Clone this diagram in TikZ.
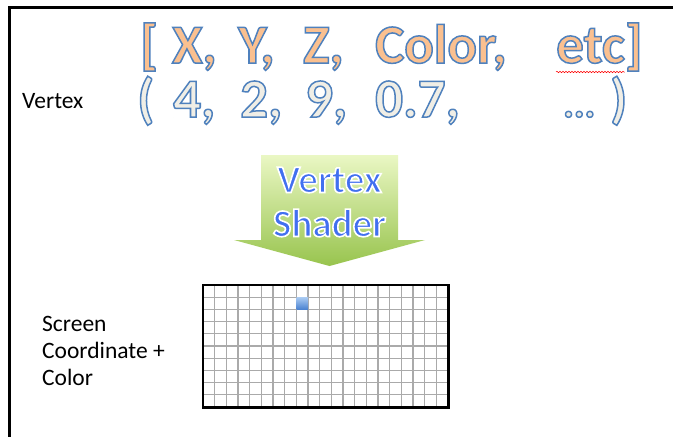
\documentclass[tikz,border=0pt]{standalone}
\usepackage{fontspec}
\setmainfont{Carlito}
\usepackage{xcolor}
\usetikzlibrary{decorations.pathmorphing}
\definecolor{outlineblue}{RGB}{79,129,189}
\definecolor{peach}{RGB}{250,192,144}
\definecolor{paper}{RGB}{240,238,230}
\definecolor{shaderblue}{RGB}{66,112,240}
\definecolor{arrowtop}{RGB}{234,247,196}
\definecolor{arrowbottom}{RGB}{152,196,78}
\definecolor{gridgray}{RGB}{170,170,170}
\definecolor{pixeltop}{RGB}{168,202,242}
\definecolor{pixelbottom}{RGB}{72,128,208}
% outlined text: fill colour #1, blue outline drawn with pdf text render mode
\newcommand{\outlined}[2]{\textcolor{#1}{\special{pdf:code 0.31 0.506 0.741 RG 1.5 w 2 Tr}#2\special{pdf:code 0 Tr}}}
\newcommand{\fieldword}[1]{\outlined{peach}{#1}}
\newcommand{\valueword}[1]{\outlined{paper}{#1}}
% blue text with a thin white rim
\newcommand{\glowword}[1]{\textcolor{shaderblue}{\special{pdf:code 1 1 1 RG 1.6 w 2 Tr}#1\special{pdf:code 0 Tr}}}
\tikzset{
    framestroke/.style={
        draw=black,
        line width=2.2pt
    },
    fieldtext/.style={
        anchor=base west,
        inner sep=0pt,
        font=\bfseries\fontsize{55}{60}\selectfont
    },
    sidelabel/.style={
        inner sep=0pt,
        align=left,
        font=\fontsize{23.5}{27}\selectfont
    },
    arrowfill/.style={
        top color=arrowtop,
        bottom color=arrowbottom
    },
    shadertext/.style={
        align=center,
        inner sep=0pt,
        font=\bfseries\fontsize{39}{44}\selectfont
    },
    screenbox/.style={
        anchor=north west,
        inner sep=0pt,
        minimum width=245pt,
        minimum height=122pt
    },
    gridline/.style={
        draw=gridgray,
        line width=1.2pt
    },
    pixel/.style={
        anchor=north west,
        inner sep=0pt,
        minimum width=11.67pt,
        minimum height=12.2pt,
        top color=pixeltop,
        bottom color=pixelbottom
    }
}

\begin{document}
\begin{tikzpicture}[x=1pt,y=-1pt]

\useasboundingbox (0,0) rectangle (673,437);
\fill[white] (0,0) rectangle (673,437);

% ---------------------------------------------------------
% Frame
% ---------------------------------------------------------
\draw[framestroke] (9.5,437) -- (9.5,7.5) -- (673,7.5);

% ---------------------------------------------------------
% Attribute names
% ---------------------------------------------------------
\node[fieldtext] (field-open) at (140,63) {\fieldword{[}};
\foreach \word/\xpos/\id in {{X,}/172/x, {Y,}/238/y, {Z,}/303/z, {Color,}/375/color}
{
    \node[fieldtext] (field-\id) at (\xpos,63) {\fieldword{\word}};
}
\node[fieldtext] (field-etc) at (556,63) {\fieldword{etc]}};

% spell-check mark under etc
\draw[red, line width=0.5pt, decorate,
      decoration={snake, amplitude=0.7pt, segment length=3pt}]
    ([yshift=-9pt]field-etc.base west) -- ([yshift=-9pt,xshift=-18pt]field-etc.base east);

% ---------------------------------------------------------
% Attribute values
% ---------------------------------------------------------
\node[fieldtext] (value-open) at (137,117) {\valueword{(}};
\foreach \word/\xpos/\id in {{4,}/173/four, {2,}/240/two, {9,}/305/nine, {0.7,}/375/point}
{
    \node[fieldtext] (value-\id) at (\xpos,117) {\valueword{\word}};
}
\node[fieldtext, font=\bfseries\fontsize{40}{44}\selectfont] (value-dots) at (563,117) {\valueword{...}};
\node[fieldtext] (value-close) at (610,117) {\valueword{)}};

\node[sidelabel, anchor=base west] (vertex-label) at (22,108) {Vertex};

% ---------------------------------------------------------
% Vertex shader arrow
% ---------------------------------------------------------
\path[arrowfill] (261,155) -- (398,155) -- (398,240) -- (425,240)
    -- (329.5,266) -- (234,240) -- (261,240) -- cycle;
\node[shadertext] (shader) at (329.5,202) {\glowword{Vertex}\\\glowword{Shader}};

% ---------------------------------------------------------
% Screen grid
% ---------------------------------------------------------
\node[screenbox] (screen) at (203,285) {};
\foreach \i in {1,...,20}
{
    \draw[gridline] ([xshift=\i*11.67pt]screen.north west) -- ([xshift=\i*11.67pt]screen.south west);
}
\foreach \j in {1,...,9}
{
    \draw[gridline] ([yshift=-\j*12.2pt]screen.north west) -- ([yshift=-\j*12.2pt]screen.north east);
}
\node[pixel] (pixel) at ([xshift=8*11.67pt,yshift=-12.2pt]screen.north west) {};
\draw[black, line width=2.4pt] (screen.north west) rectangle (screen.south east);

\node[sidelabel, anchor=west] (screen-label) at (42,351) {Screen\\Coordinate +\\Color};

\end{tikzpicture}
\end{document}
